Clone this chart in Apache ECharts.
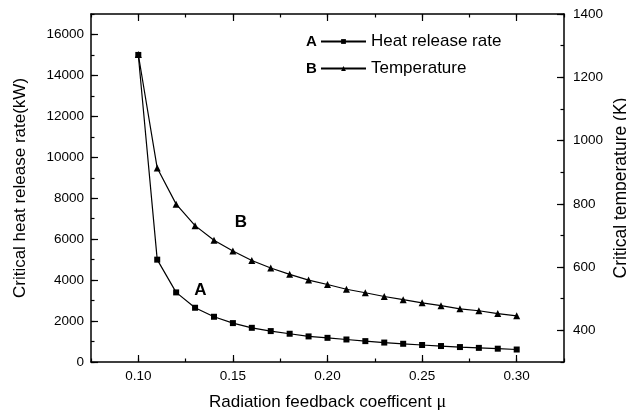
<!DOCTYPE html>
<html>
<head>
<meta charset="utf-8">
<script src="https://cdn.jsdelivr.net/npm/echarts@6/dist/echarts.min.js"></script>
<style>
html, body {margin: 0; padding: 0; background: #fff;}
#chart {width: 626px; height: 410px;}
</style>
</head>
<body>
<div id="chart"></div>
<script>
// values
var mu = [0.10, 0.11, 0.12, 0.13, 0.14, 0.15, 0.16, 0.17, 0.18, 0.19, 0.20,
          0.21, 0.22, 0.23, 0.24, 0.25, 0.26, 0.27, 0.28, 0.29, 0.30];
var heatRelease = [15000, 5000, 3400, 2650, 2210, 1900, 1670, 1510, 1380, 1250, 1180,
                   1100, 1020, 950, 890, 830, 780, 730, 690, 650, 610];
var temperature = [1272, 913, 799, 731, 685, 651, 621, 597, 577, 559, 545,
                   530, 519, 507, 497, 487, 478, 468, 462, 453, 446];

// tick labels
var xTicks = [0.10, 0.15, 0.20, 0.25, 0.30];
var leftTicks = [0, 2000, 4000, 6000, 8000, 10000, 12000, 14000, 16000];
var rightTicks = [400, 600, 800, 1000, 1200, 1400];

var font = "Liberation Sans";
var black = "#000";

function pairs(xs, ys) {
    var out = [];
    for (var i = 0; i < xs.length; i++) out.push([xs[i], ys[i]]);
    return out;
}

// one axis carries the line, labels and long ticks, a second one the short ticks
function majorAxis(pos, min, max, ticks, labels, fmt) {
    return {
        type: "value", position: pos, min: min, max: max,
        axisLine: {show: true, onZero: false, lineStyle: {color: black, width: 1.5}},
        axisTick: {show: true, inside: true, length: 7, customValues: ticks,
                   lineStyle: {color: black, width: 1.2}},
        axisLabel: {show: labels, customValues: ticks, formatter: fmt, color: black,
                    fontSize: 13.5, fontFamily: font},
        splitLine: {show: false}
    };
}
function minorAxis(pos, min, max, step) {
    return {
        type: "value", position: pos, min: min, max: max, interval: step,
        axisLine: {show: false, onZero: false},
        axisTick: {show: true, inside: true, length: 3.5, lineStyle: {color: black, width: 1.2}},
        axisLabel: {show: false},
        splitLine: {show: false}
    };
}

var xFmt = function (v) { return v.toFixed(2); };
var intFmt = function (v) { return String(Math.round(v)); };

var xBottom = majorAxis("bottom", 0.075, 0.325, xTicks, true, xFmt);
xBottom.axisLabel.margin = 7;
xBottom.name = "Radiation feedback coefficent {mu|\u03bc}";
xBottom.nameLocation = "middle";
xBottom.nameGap = 31;
xBottom.nameTextStyle = {color: black, fontSize: 17, fontFamily: font,
    rich: {mu: {fontFamily: "Liberation Serif", fontSize: 18, color: black}}};

var yLeft = majorAxis("left", 0, 17000, leftTicks, true, intFmt);
yLeft.axisLabel.margin = 7;
yLeft.name = "Critical heat release rate(kW)";
yLeft.nameLocation = "middle";
yLeft.nameGap = 62;
yLeft.nameTextStyle = {color: black, fontSize: 17, fontFamily: font};

var yRight = majorAxis("right", 300, 1400, rightTicks, true, intFmt);
yRight.axisLabel.margin = 9;
yRight.name = "Critical temperature (K)";
yRight.nameLocation = "middle";
yRight.nameGap = 48;
yRight.nameRotate = 90;
yRight.nameMoveOverlap = false;
yRight.nameTextStyle = {color: black, fontSize: 17.5, fontFamily: font};

var myChart = echarts.init(document.getElementById("chart"));
var options = {
    backgroundColor: "#fff",
    animation: false,
    grid: {left: 91, right: 62, top: 14, bottom: 48, outerBoundsMode: "none", containLabel: false},
    xAxis: [
        xBottom,
        minorAxis("bottom", 0.075, 0.325, 0.025),
        majorAxis("top", 0.075, 0.325, xTicks, false, xFmt),
        minorAxis("top", 0.075, 0.325, 0.025)
    ],
    yAxis: [
        yLeft,
        minorAxis("left", 0, 17000, 1000),
        yRight,
        minorAxis("right", 300, 1400, 100)
    ],
    legend: {
        orient: "vertical",
        left: 320,
        top: 33,
        padding: 0,
        itemWidth: 45,
        itemHeight: 6,
        itemGap: 10,
        textStyle: {color: black, fontSize: 17, fontFamily: font},
        data: ["Heat release rate", "Temperature"]
    },
    graphic: [
        {type: "text", left: 306, top: 34,
         style: {text: "A", fill: black, font: "bold 15px Liberation Sans"}},
        {type: "text", left: 306, top: 61,
         style: {text: "B", fill: black, font: "bold 15px Liberation Sans"}}
    ],
    series: [
        {
            name: "Heat release rate",
            type: "line",
            xAxisIndex: 0,
            yAxisIndex: 0,
            symbol: "rect",
            symbolSize: 6,
            lineStyle: {color: black, width: 1.2},
            itemStyle: {color: black},
            data: pairs(mu, heatRelease),
            markPoint: {
                symbol: "circle",
                symbolSize: 1,
                itemStyle: {color: "transparent"},
                label: {show: true, position: "inside", color: black, fontSize: 17,
                        fontWeight: "bold", fontFamily: font},
                data: [
                    {coord: [0.1328, 3500], value: "A"},
                    {coord: [0.1542, 6840], value: "B"}
                ]
            }
        },
        {
            name: "Temperature",
            type: "line",
            xAxisIndex: 0,
            yAxisIndex: 2,
            symbol: "triangle",
            symbolSize: 7,
            lineStyle: {color: black, width: 1.2},
            itemStyle: {color: black},
            data: pairs(mu, temperature)
        }
    ]
};

myChart.setOption(options);
</script>
</body>
</html>
